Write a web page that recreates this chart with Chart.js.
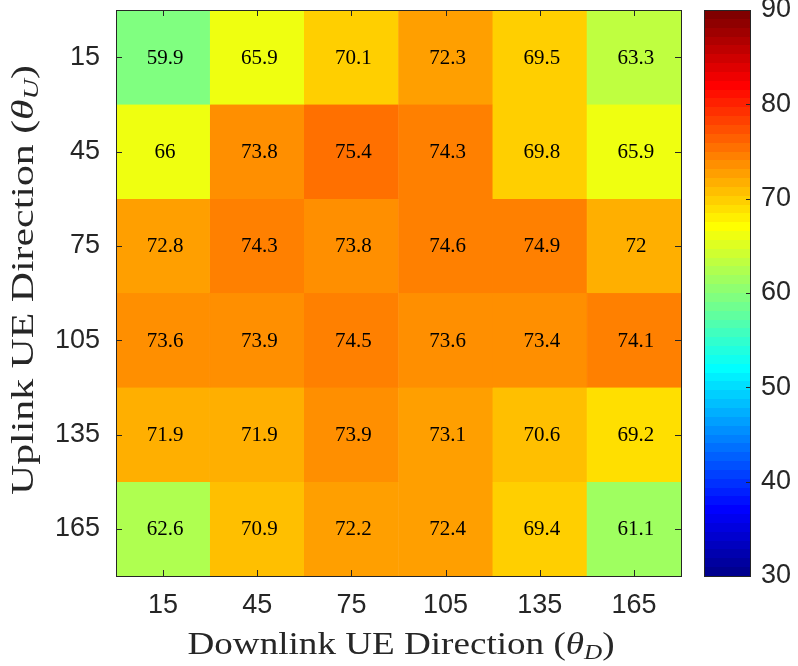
<!DOCTYPE html>
<html>
<head>
<meta charset="utf-8">
<script src="https://cdn.jsdelivr.net/npm/chart.js@4.4.1/dist/chart.umd.min.js"></script>
<style>
html,body{margin:0;padding:0;background:#fff;}
#wrap{position:relative;width:798px;height:666px;}
#main{position:absolute;left:0;top:0;}
#cbar{position:absolute;left:690px;top:0;}
</style>
</head>
<body>
<div id="wrap">
<canvas id="main" width="798" height="666" style="width:798px;height:666px"></canvas>
<canvas id="cbar" width="108" height="666" style="width:108px;height:666px"></canvas>
</div>
<script>
// ---- data ----
const downlinkLabels = ['15', '45', '75', '105', '135', '165'];
const uplinkLabels = [15, 45, 75, 105, 135, 165];
const rowU15  = [59.9, 65.9, 70.1, 72.3, 69.5, 63.3];
const rowU45  = [66, 73.8, 75.4, 74.3, 69.8, 65.9];
const rowU75  = [72.8, 74.3, 73.8, 74.6, 74.9, 72];
const rowU105 = [73.6, 73.9, 74.5, 73.6, 73.4, 74.1];
const rowU135 = [71.9, 71.9, 73.9, 73.1, 70.6, 69.2];
const rowU165 = [62.6, 70.9, 72.2, 72.4, 69.4, 61.1];
const colorbarTicks = [30, 40, 50, 60, 70, 80, 90];
const xTitle = 'Downlink UE Direction';
const yTitle = 'Uplink UE Direction';
const xSub = 'D';
const ySub = 'U';

const rows = [rowU15, rowU45, rowU75, rowU105, rowU135, rowU165];
const cmin = colorbarTicks[0], cmax = colorbarTicks[colorbarTicks.length - 1];
const rowSpan = 30;

// MATLAB jet(64)
function jetU(k){ if(k<1||k>47) return 0; if(k<=16) return k/16; if(k<=31) return 1; return (48-k)/16; }
function jetColor(i){ // i 1..64
  const r = jetU(i-24), g = jetU(i-8), b = jetU(i+8);
  return 'rgb(' + Math.round(r*255) + ',' + Math.round(g*255) + ',' + Math.round(b*255) + ')';
}
function valueColor(v){
  let i = Math.floor((v - cmin) / (cmax - cmin) * 64) + 1;
  i = Math.max(1, Math.min(64, i));
  return jetColor(i);
}

const AX = '#262626';
const tickFont = {family: '"Liberation Sans", Arial, sans-serif', size: 27};
const serif = '"Liberation Serif", "DejaVu Serif", serif';

const datasets = rows.map((row, r) => ({
  label: 'U' + uplinkLabels[r],
  data: row.map(() => [r * rowSpan, (r + 1) * rowSpan]),
  values: row,
  backgroundColor: row.map(valueColor),
  borderColor: row.map(valueColor),
  borderWidth: 0.6,
  borderSkipped: false,
  barPercentage: 1,
  categoryPercentage: 1,
  grouped: false
}));

function drawMathTitle(ctx, text, sub, cx, baseline, target, rotate){
  const fMain = '31px ' + serif;
  const fIt = 'italic 31px ' + serif;
  const fSub = 'italic 21px ' + serif;
  ctx.save();
  ctx.fillStyle = AX;
  ctx.textBaseline = 'alphabetic';
  ctx.textAlign = 'left';
  const parts = [
    {t: text + ' (', f: fMain, dy: 0},
    {t: 'θ', f: fIt, dy: 0},
    {t: sub, f: fSub, dy: 5},
    {t: ')', f: fMain, dy: 0}
  ];
  let total = 0;
  parts.forEach(p => { ctx.font = p.f; p.w = ctx.measureText(p.t).width; total += p.w; });
  const sx = target / total;
  if (rotate) {
    ctx.translate(baseline, cx);
    ctx.rotate(-Math.PI / 2);
  } else {
    ctx.translate(cx, baseline);
  }
  ctx.scale(sx, 1);
  let x = -total / 2;
  parts.forEach(p => { ctx.font = p.f; ctx.fillText(p.t, x, p.dy); x += p.w; });
  ctx.restore();
}

const heatPlugin = {
  id: 'heatPlugin',
  afterDatasetsDraw(chart){
    const ctx = chart.ctx;
    ctx.save();
    ctx.font = '21px "Liberation Serif", serif';
    ctx.fillStyle = '#000';
    ctx.textAlign = 'center';
    ctx.textBaseline = 'middle';
    chart.data.datasets.forEach((ds, r) => {
      const meta = chart.getDatasetMeta(r);
      meta.data.forEach((el, j) => {
        const cy = (el.y + el.base) / 2;
        ctx.fillText(String(ds.values[j]), el.x + 2, cy + 1);
      });
    });
    const a = chart.chartArea;
    const xs = chart.scales.x, ys = chart.scales.y;
    ctx.strokeStyle = AX;
    ctx.lineWidth = 1;
    const tl = 6;
    ctx.beginPath();
    downlinkLabels.forEach((l, j) => {
      const px = Math.round(xs.getPixelForValue(j)) + 0.5;
      ctx.moveTo(px, a.bottom); ctx.lineTo(px, a.bottom - tl);
      ctx.moveTo(px, a.top); ctx.lineTo(px, a.top + tl);
    });
    uplinkLabels.forEach(v => {
      const py = Math.round(ys.getPixelForValue(v)) + 0.5;
      ctx.moveTo(a.left, py); ctx.lineTo(a.left + tl, py);
      ctx.moveTo(a.right, py); ctx.lineTo(a.right - tl, py);
    });
    ctx.stroke();
    ctx.strokeRect(Math.round(a.left) + 0.5, Math.round(a.top) + 0.5, Math.round(a.right - a.left), Math.round(a.bottom - a.top));
    ctx.restore();
  },
  afterDraw(chart){
    drawMathTitle(chart.ctx, xTitle, xSub, 401, 654, 427, false);
    drawMathTitle(chart.ctx, yTitle, ySub, 280, 33, 430, true);
  }
};

new Chart(document.getElementById('main'), {
  type: 'bar',
  data: {labels: downlinkLabels, datasets: datasets},
  options: {
    responsive: false,
    animation: false,
    devicePixelRatio: 1,
    layout: {padding: {left: 0, right: 117, top: 10, bottom: 0}},
    plugins: {legend: {display: false}, tooltip: {enabled: false}, title: {display: false}},
    scales: {
      x: {
        type: 'category',
        offset: true,
        grid: {display: false, drawTicks: false},
        border: {display: false},
        ticks: {font: tickFont, color: AX, padding: 13, maxRotation: 0},
        afterFit(s){ s.height = 90; s.paddingLeft = 0; s.paddingRight = 0; }
      },
      y: {
        type: 'linear',
        min: 0, max: 180,
        reverse: true,
        grid: {display: false, drawTicks: false},
        border: {display: false},
        ticks: {font: tickFont, color: AX, padding: 16},
        afterBuildTicks(s){ s.ticks = uplinkLabels.map(v => ({value: v})); },
        afterFit(s){ s.width = 116; s.paddingTop = 0; s.paddingBottom = 0; }
      }
    }
  },
  plugins: [heatPlugin]
});

// ---- colorbar ----
const cbPlugin = {
  id: 'cbPlugin',
  afterDatasetsDraw(chart){
    const ctx = chart.ctx, a = chart.chartArea, ys = chart.scales.y;
    ctx.save();
    ctx.strokeStyle = AX; ctx.lineWidth = 1;
    ctx.beginPath();
    colorbarTicks.forEach(v => {
      const py = Math.round(ys.getPixelForValue(v)) + 0.5;
      ctx.moveTo(a.right, py); ctx.lineTo(a.right - 4, py);
    });
    ctx.stroke();
    ctx.strokeRect(Math.round(a.left) + 0.5, Math.round(a.top) + 0.5, Math.round(a.right - a.left), Math.round(a.bottom - a.top));
    ctx.restore();
  }
};

new Chart(document.getElementById('cbar'), {
  type: 'bar',
  data: {
    labels: ['c'],
    datasets: [{
      data: [[cmin, cmax]],
      barPercentage: 1,
      categoryPercentage: 1,
      borderWidth: 0,
      backgroundColor(ctx){
        const ch = ctx.chart, a = ch.chartArea;
        if (!a) return '#888';
        const g = ch.ctx.createLinearGradient(0, a.bottom, 0, a.top);
        for (let i = 1; i <= 64; i++) {
          const c = jetColor(i);
          g.addColorStop((i - 1) / 64, c);
          g.addColorStop(i / 64, c);
        }
        return g;
      }
    }]
  },
  options: {
    responsive: false,
    animation: false,
    devicePixelRatio: 1,
    layout: {padding: {left: 14, right: 0, top: 10, bottom: 90}},
    plugins: {legend: {display: false}, tooltip: {enabled: false}},
    scales: {
      x: {display: false, offset: true},
      y: {
        position: 'right',
        min: cmin, max: cmax,
        grid: {display: false, drawTicks: false},
        border: {display: false},
        ticks: {font: tickFont, color: AX, padding: 11, stepSize: 10},
        afterBuildTicks(s){ s.ticks = colorbarTicks.map(v => ({value: v})); },
        afterFit(s){ s.width = 48; s.paddingTop = 0; s.paddingBottom = 0; }
      }
    }
  },
  plugins: [cbPlugin]
});
</script>
</body>
</html>
